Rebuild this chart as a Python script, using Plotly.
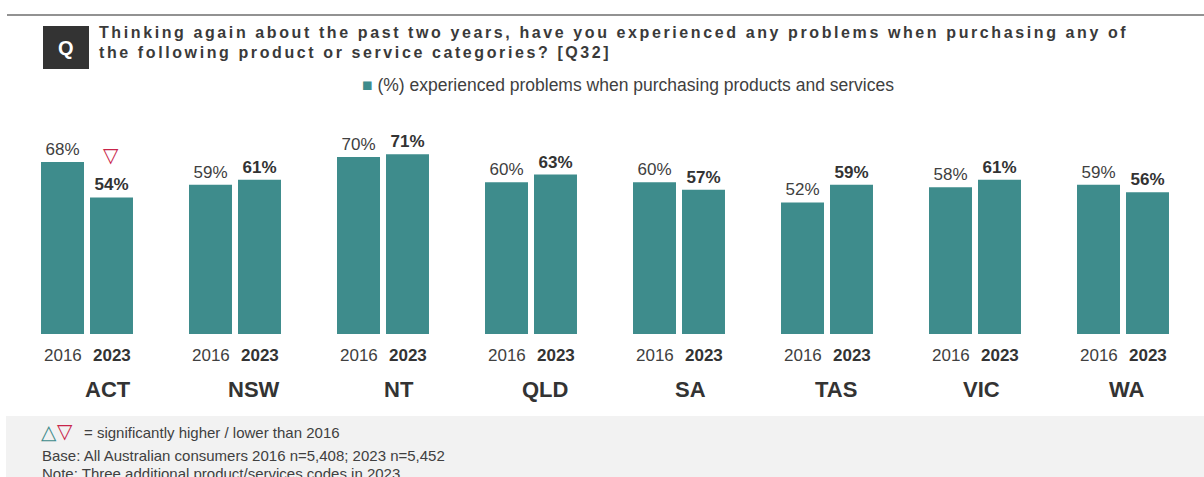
import plotly.graph_objects as go

# Survey results by state/territory
states = ["ACT", "NSW", "NT", "QLD", "SA", "TAS", "VIC", "WA"]
pct_2016 = [68, 59, 70, 60, 60, 52, 58, 59]
pct_2023 = [54, 61, 71, 63, 57, 59, 61, 56]
# significance of the 2023 result vs 2016
sig_2023 = ["down", None, None, None, None, None, None, None]
years = ["2016", "2023"]

TEAL = "#3E8C8C"
RED = "#C8254A"
TXT = "#404040"
FONT = "Liberation Sans, Arial, sans-serif"
SYM_FONT = "DejaVu Sans, sans-serif"

W, H = 1204, 477
ML, MR, MT, MB = 13, 7, 81, 143
PW = W - ML - MR
PH = H - MT - MB


def fx(p):
    return (p - ML) / PW


def fy(p):
    return (H - MB - p) / PH


fig = go.Figure()
fig.add_trace(go.Bar(
    x=states, y=pct_2016, name=years[0], marker=dict(color=TEAL, line=dict(width=0)),
    texttemplate="%{y}%", textposition="outside", cliponaxis=False,
    constraintext="none", textfont=dict(family=FONT, size=17, color=TXT),
    showlegend=False,
))
fig.add_trace(go.Bar(
    x=states, y=pct_2023, name=years[1], marker=dict(color=TEAL, line=dict(width=0)),
    texttemplate="<b>%{y}%</b>", textposition="outside", cliponaxis=False,
    constraintext="none", textfont=dict(family=FONT, size=17, color="#333333"),
    showlegend=False,
))

ann = []
BAR_OFF = 24.5
for i, s in enumerate(states):
    # year labels under each bar
    ann.append(dict(x=s, xref="x", y=0, yref="paper", xshift=-BAR_OFF, yshift=-21,
                    text=years[0], showarrow=False, yanchor="middle",
                    font=dict(family=FONT, size=17, color=TXT)))
    ann.append(dict(x=s, xref="x", y=0, yref="paper", xshift=BAR_OFF, yshift=-21,
                    text="<b>%s</b>" % years[1], showarrow=False, yanchor="middle",
                    font=dict(family=FONT, size=17, color="#333333")))
    # state name
    ann.append(dict(x=s, xref="x", y=0, yref="paper", xshift=21 - 2.4 * i, yshift=-55,
                    text="<b>%s</b>" % s, showarrow=False, yanchor="middle",
                    font=dict(family=FONT, size=22, color="#333333")))
    # significance marker
    if sig_2023[i]:
        glyph = "\u25BD" if sig_2023[i] == "down" else "\u25B3"
        col = RED if sig_2023[i] == "down" else TEAL
        ann.append(dict(x=s, xref="x", y=pct_2023[i], yref="y", xshift=BAR_OFF - 1, yshift=42,
                        text=glyph, showarrow=False, yanchor="middle",
                        font=dict(family=SYM_FONT, size=20, color=col)))

# question heading
title_style = "letter-spacing:2.6px"
ann.append(dict(x=fx(97), xref="paper", y=fy(32), yref="paper", xanchor="left", yanchor="middle",
                showarrow=False,
                text="<span style='%s'><b>Thinking again about the past two years, have you experienced any problems when purchasing any of</b></span>" % title_style,
                font=dict(family=FONT, size=16, color="#3A3A3A")))
ann.append(dict(x=fx(97), xref="paper", y=fy(53), yref="paper", xanchor="left", yanchor="middle",
                showarrow=False,
                text="<span style='%s'><b>the following product or service categories? [Q32]</b></span>" % title_style,
                font=dict(family=FONT, size=16, color="#3A3A3A")))
ann.append(dict(x=fx(66), xref="paper", y=fy(48), yref="paper", xanchor="center", yanchor="middle",
                showarrow=False, text="<b>Q</b>",
                font=dict(family=FONT, size=20, color="white")))

# legend line
ann.append(dict(x=fx(360), xref="paper", y=fy(85), yref="paper", xanchor="left", yanchor="middle",
                showarrow=False,
                text="<span style='color:%s'>\u25A0</span> (%%) experienced problems when purchasing products and services" % TEAL,
                font=dict(family=FONT, size=17.5, color=TXT)))

# footer notes
ann.append(dict(x=fx(48.5), xref="paper", y=fy(432), yref="paper", xanchor="center", yanchor="middle",
                showarrow=False, text="\u25B3", font=dict(family=SYM_FONT, size=20, color=TEAL)))
ann.append(dict(x=fx(65), xref="paper", y=fy(431), yref="paper", xanchor="center", yanchor="middle",
                showarrow=False, text="\u25BD", font=dict(family=SYM_FONT, size=20, color=RED)))
ann.append(dict(x=fx(82), xref="paper", y=fy(432), yref="paper", xanchor="left", yanchor="middle",
                showarrow=False, text="= significantly higher / lower than 2016",
                font=dict(family=FONT, size=15, color=TXT)))
ann.append(dict(x=fx(40), xref="paper", y=fy(455), yref="paper", xanchor="left", yanchor="middle",
                showarrow=False, text="Base: All Australian consumers 2016 n=5,408; 2023 n=5,452",
                font=dict(family=FONT, size=15, color=TXT)))
ann.append(dict(x=fx(40), xref="paper", y=fy(473), yref="paper", xanchor="left", yanchor="middle",
                showarrow=False, text="Note: Three additional product/services codes in 2023",
                font=dict(family=FONT, size=15, color=TXT)))

shapes = [
    # rule at the top
    dict(type="line", xref="paper", yref="paper", x0=fx(7), x1=fx(1204), y0=fy(15), y1=fy(15),
         line=dict(color="#6E6E6E", width=1.5)),
    # question badge
    dict(type="rect", xref="paper", yref="paper", x0=fx(43), x1=fx(89), y0=fy(69), y1=fy(26),
         fillcolor="#333333", line=dict(width=0), layer="below"),
    # footer panel
    dict(type="rect", xref="paper", yref="paper", x0=fx(6), x1=fx(1204), y0=fy(477), y1=fy(416),
         fillcolor="#F2F2F2", line=dict(width=0), layer="below"),
]

fig.update_layout(
    width=W, height=H,
    margin=dict(l=ML, r=MR, t=MT, b=MB, pad=0),
    paper_bgcolor="white", plot_bgcolor="white",
    barmode="group", bargap=0.338, bargroupgap=0.1224,
    xaxis=dict(visible=False, categoryorder="array", categoryarray=states),
    yaxis=dict(visible=False, range=[0, 100]),
    annotations=ann, shapes=shapes,
    font=dict(family=FONT, color=TXT),
)

fig.write_html("out.html")
